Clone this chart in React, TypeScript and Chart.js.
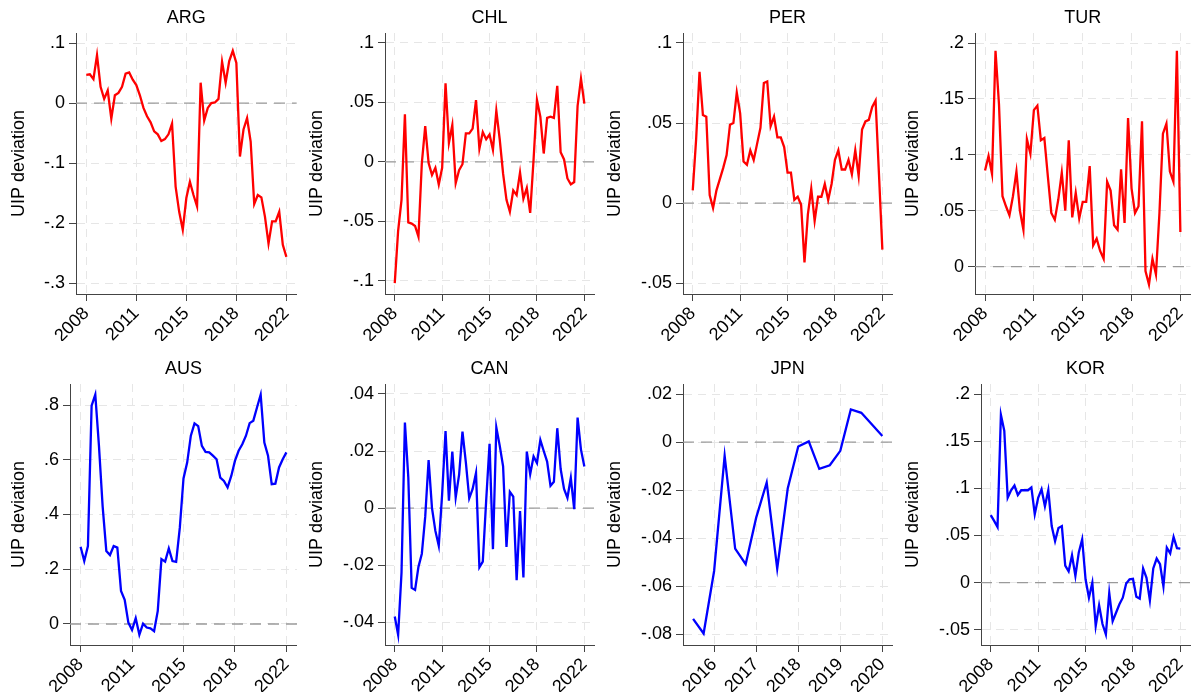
import React, { useEffect, useRef } from "react";
import { Chart, registerables } from "chart.js";

Chart.register(...registerables);

// ---------- data ----------
const YEAR_TICKS = [2008, 2011.5, 2015, 2018.5, 2022];
const YEAR_LABELS = ["2008", "2011", "2015", "2018", "2022"];
const JPN_TICKS = [2016, 2017, 2018, 2019, 2020];
const JPN_LABELS = ["2016", "2017", "2018", "2019", "2020"];

const START_MAIN = 2008; // 2008q1, quarterly
const START_JPN = 2015.5; // 2015q3, quarterly

const ARG = [0.047, 0.048, 0.040, 0.080, 0.027, 0.007, 0.021, -0.026, 0.013, 0.017,
  0.027, 0.049, 0.051, 0.039, 0.030, 0.013, -0.008, -0.022, -0.032, -0.047,
  -0.052, -0.063, -0.060, -0.052, -0.034, -0.139, -0.181, -0.211, -0.158, -0.131,
  -0.153, -0.172, 0.034, -0.029, -0.008, 0.000, 0.001, 0.007, 0.069, 0.034,
  0.070, 0.087, 0.067, -0.089, -0.044, -0.025, -0.064, -0.168, -0.153, -0.157,
  -0.189, -0.234, -0.197, -0.197, -0.181, -0.236, -0.256];

const CHL = [-0.102, -0.058, -0.032, 0.040, -0.051, -0.052, -0.054, -0.063, -0.001, 0.030,
  -0.001, -0.011, -0.005, -0.019, -0.005, 0.066, 0.016, 0.031, -0.018, -0.007,
  -0.002, 0.024, 0.024, 0.028, 0.052, 0.011, 0.025, 0.019, 0.023, 0.010,
  0.043, 0.019, -0.010, -0.032, -0.042, -0.024, -0.028, -0.009, -0.031, -0.022,
  -0.043, 0.002, 0.052, 0.038, 0.007, 0.037, 0.038, 0.037, 0.064, 0.008,
  0.002, -0.014, -0.019, -0.017, 0.047, 0.070, 0.049];

const PER = [0.008, 0.040, 0.082, 0.055, 0.054, 0.005, -0.003, 0.008, 0.015, 0.022,
  0.030, 0.049, 0.050, 0.069, 0.056, 0.026, 0.024, 0.033, 0.027, 0.037,
  0.047, 0.075, 0.076, 0.048, 0.054, 0.041, 0.041, 0.035, 0.019, 0.019,
  0.002, 0.004, -0.001, -0.037, -0.007, 0.009, -0.011, 0.004, 0.004, 0.012,
  0.002, 0.012, 0.027, 0.033, 0.021, 0.021, 0.027, 0.018, 0.033, 0.017,
  0.046, 0.051, 0.052, 0.060, 0.064, 0.018, -0.029];

const TUR = [0.086, 0.099, 0.083, 0.193, 0.145, 0.063, 0.054, 0.046, 0.063, 0.085,
  0.050, 0.033, 0.114, 0.101, 0.140, 0.144, 0.113, 0.115, 0.081, 0.048,
  0.042, 0.060, 0.084, 0.050, 0.113, 0.044, 0.066, 0.043, 0.058, 0.058,
  0.090, 0.019, 0.025, 0.014, 0.007, 0.076, 0.068, 0.037, 0.033, 0.087,
  0.039, 0.133, 0.070, 0.048, 0.054, 0.130, -0.004, -0.016, 0.007, -0.007,
  0.048, 0.119, 0.128, 0.085, 0.076, 0.193, 0.031];

const AUS = [0.282, 0.230, 0.285, 0.798, 0.838, 0.651, 0.430, 0.267, 0.252, 0.285,
  0.279, 0.121, 0.088, 0.005, -0.022, 0.021, -0.039, 0.001, -0.013, -0.016,
  -0.026, 0.048, 0.237, 0.228, 0.276, 0.230, 0.227, 0.352, 0.532, 0.590,
  0.688, 0.733, 0.723, 0.651, 0.629, 0.627, 0.615, 0.602, 0.535, 0.523,
  0.499, 0.541, 0.596, 0.633, 0.657, 0.688, 0.734, 0.743, 0.791, 0.838,
  0.663, 0.615, 0.511, 0.513, 0.572, 0.602, 0.627];

const CAN = [-0.038, -0.0444, -0.0226, 0.030, 0.0108, -0.028, -0.0287, -0.0206, -0.016, -0.003,
  0.0168, 0.000, -0.008, -0.0132, 0.005, 0.027, 0.0026, 0.0198, 0.0037, 0.0116,
  0.0268, 0.016, 0.0034, 0.0067, 0.0123, -0.0208, -0.0188, 0.0026, 0.0225, -0.0144,
  0.0283, 0.0219, 0.0146, -0.0136, 0.0057, 0.004, -0.0253, -0.001, -0.0243, 0.0198,
  0.0119, 0.0181, 0.0158, 0.0239, 0.020, 0.0163, 0.0078, 0.0092, 0.028, 0.0137,
  0.0067, 0.0036, 0.0106, -0.0004, 0.0317, 0.0205, 0.0146];

const JPN = [-0.0735, -0.0796, -0.0536, -0.0057, -0.0443, -0.0508, -0.0314, -0.0168, -0.0526, -0.0193,
  -0.0018, 0.0003, -0.0111, -0.0096, -0.0036, 0.0136, 0.0122, null, 0.0026];

const KOR = [0.0715, 0.0655, 0.059, 0.178, 0.161, 0.090, 0.098, 0.103, 0.093, 0.098,
  0.098, 0.098, 0.101, 0.0726, 0.090, 0.099, 0.081, 0.098, 0.060, 0.044,
  0.058, 0.060, 0.018, 0.012, 0.029, 0.007, 0.032, 0.046, 0.0035, -0.016,
  0.000, -0.046, -0.024, -0.044, -0.055, -0.011, -0.041, -0.032, -0.023, -0.016,
  -0.001, 0.0035, 0.004, -0.015, -0.017, 0.015, 0.005, -0.019, 0.015, 0.0255,
  0.0195, -0.004, 0.037, 0.031, 0.0485, 0.0365, 0.036];

const ARG_Y_TICKS = [-0.3, -0.2, -0.1, 0, 0.1];
const CHL_Y_TICKS = [-0.1, -0.05, 0, 0.05, 0.1];
const PER_Y_TICKS = [-0.05, 0, 0.05, 0.1];
const TUR_Y_TICKS = [0, 0.05, 0.1, 0.15, 0.2];
const AUS_Y_TICKS = [0, 0.2, 0.4, 0.6, 0.8];
const CAN_Y_TICKS = [-0.04, -0.02, 0, 0.02, 0.04];
const JPN_Y_TICKS = [-0.08, -0.06, -0.04, -0.02, 0, 0.02];
const KOR_Y_TICKS = [-0.05, 0, 0.05, 0.1, 0.15, 0.2];

// ---------- layout / style ----------
const FONT = "'Liberation Sans', Arial, sans-serif";
const RED = "#ff0000";
const BLUE = "#0000ff";
const GRID = "#e6e6e6";
const AXIS = "#444444";
const ZERO = "#9a9a9a";
const CANVAS_W = 304;
const CANVAS_H = 341;
const PLOT_BOTTOM = 294;
const MAIN_MARGIN = 0.72;
const JPN_MARGIN = 0.24;

type Panel = {
  title: string;
  values: (number | null)[];
  start: number;
  color: string;
  xTicks: number[];
  xLabels: string[];
  xMin: number;
  xMax: number;
  yMin: number;
  yMax: number;
  yTicks: number[];
  left: number;
  top: number;
  yAxisW: number;
};

const PANELS: Panel[] = [
  { title: "ARG", values: ARG, start: START_MAIN, color: RED, xTicks: YEAR_TICKS, xLabels: YEAR_LABELS, xMin: 2008 - MAIN_MARGIN, xMax: 2022 + MAIN_MARGIN, yMin: -0.3178, yMax: 0.1167, yTicks: ARG_Y_TICKS, left: 0, top: 0, yAxisW: 76 },
  { title: "CHL", values: CHL, start: START_MAIN, color: RED, xTicks: YEAR_TICKS, xLabels: YEAR_LABELS, xMin: 2008 - MAIN_MARGIN, xMax: 2022 + MAIN_MARGIN, yMin: -0.1112, yMax: 0.1084, yTicks: CHL_Y_TICKS, left: 298, top: 0, yAxisW: 87 },
  { title: "PER", values: PER, start: START_MAIN, color: RED, xTicks: YEAR_TICKS, xLabels: YEAR_LABELS, xMin: 2008 - MAIN_MARGIN, xMax: 2022 + MAIN_MARGIN, yMin: -0.0567, yMax: 0.1062, yTicks: PER_Y_TICKS, left: 596, top: 0, yAxisW: 87 },
  { title: "TUR", values: TUR, start: START_MAIN, color: RED, xTicks: YEAR_TICKS, xLabels: YEAR_LABELS, xMin: 2008 - MAIN_MARGIN, xMax: 2022 + MAIN_MARGIN, yMin: -0.0245, yMax: 0.209, yTicks: TUR_Y_TICKS, left: 894, top: 0, yAxisW: 81 },
  { title: "AUS", values: AUS, start: START_MAIN, color: BLUE, xTicks: YEAR_TICKS, xLabels: YEAR_LABELS, xMin: 2008 - MAIN_MARGIN, xMax: 2022 + MAIN_MARGIN, yMin: -0.0768, yMax: 0.877, yTicks: AUS_Y_TICKS, left: 0, top: 351, yAxisW: 70 },
  { title: "CAN", values: CAN, start: START_MAIN, color: BLUE, xTicks: YEAR_TICKS, xLabels: YEAR_LABELS, xMin: 2008 - MAIN_MARGIN, xMax: 2022 + MAIN_MARGIN, yMin: -0.048, yMax: 0.0435, yTicks: CAN_Y_TICKS, left: 298, top: 351, yAxisW: 87 },
  { title: "JPN", values: JPN, start: START_JPN, color: BLUE, xTicks: JPN_TICKS, xLabels: JPN_LABELS, xMin: 2015.5 - JPN_MARGIN, xMax: 2020 + JPN_MARGIN, yMin: -0.0844, yMax: 0.0242, yTicks: JPN_Y_TICKS, left: 596, top: 351, yAxisW: 87 },
  { title: "KOR", values: KOR, start: START_MAIN, color: BLUE, xTicks: YEAR_TICKS, xLabels: YEAR_LABELS, xMin: 2008 - MAIN_MARGIN, xMax: 2022 + MAIN_MARGIN, yMin: -0.0662, yMax: 0.2107, yTicks: KOR_Y_TICKS, left: 894, top: 351, yAxisW: 87 },
];

const fmt = (v: number) => {
  let s = String(Number(v.toFixed(6)));
  s = s.replace(/^0\./, ".").replace(/^-0\./, "-.");
  return s;
};

const zeroLine = {
  id: "zeroLine",
  beforeDatasetsDraw(chart: any) {
    const { ctx, chartArea, scales } = chart;
    const py = scales.y.getPixelForValue(0);
    ctx.save();
    ctx.strokeStyle = ZERO;
    ctx.lineWidth = 1.3;
    ctx.setLineDash([11, 7]);
    ctx.beginPath();
    ctx.moveTo(chartArea.left, py);
    ctx.lineTo(chartArea.right, py);
    ctx.stroke();
    ctx.restore();
  },
};

function PanelChart({ p }: { p: Panel }) {
  const ref = useRef<HTMLCanvasElement | null>(null);
  useEffect(() => {
    if (!ref.current) return;
    const font = { family: FONT, size: 18, weight: "normal" as const };
    const chart = new Chart(ref.current, {
      type: "line",
      data: {
        datasets: [
          {
            data: p.values.map((y, i) => ({ x: p.start + i * 0.25, y })),
            borderColor: p.color,
            borderWidth: 2.3,
            pointRadius: 0,
            tension: 0,
            spanGaps: true,
            fill: false,
          },
        ],
      },
      options: {
        animation: false,
        responsive: false,
        maintainAspectRatio: false,
        layout: { padding: 0 },
        plugins: {
          legend: { display: false },
          tooltip: { enabled: false },
          title: {
            display: true,
            text: p.title,
            fullSize: false,
            color: "#000",
            font,
            padding: { top: 7.5, bottom: 3.9 },
          },
        },
        scales: {
          x: {
            type: "linear",
            min: p.xMin,
            max: p.xMax,
            afterBuildTicks: (s: any) => {
              s.ticks = p.xTicks.map((v) => ({ value: v }));
            },
            afterFit: (s: any) => {
              s.height = CANVAS_H - PLOT_BOTTOM;
            },
            ticks: {
              autoSkip: false,
              minRotation: 45,
              maxRotation: 45,
              padding: 2,
              color: "#000",
              font,
              callback: (_v: any, i: number) => p.xLabels[i],
            },
            grid: {
              color: GRID,
              lineWidth: 1,
              tickLength: 7,
              tickColor: AXIS,
              tickWidth: 1,
              tickBorderDash: [],
            } as any,
            border: { display: true, color: AXIS, width: 1, dash: [8, 6] },
          },
          y: {
            type: "linear",
            min: p.yMin,
            max: p.yMax,
            afterBuildTicks: (s: any) => {
              s.ticks = p.yTicks.map((v) => ({ value: v }));
            },
            afterFit: (s: any) => {
              s.width = p.yAxisW;
            },
            title: {
              display: true,
              text: "UIP deviation",
              color: "#000",
              font,
              padding: { top: 8.5, bottom: 0 },
            },
            ticks: {
              autoSkip: false,
              padding: 4,
              color: "#000",
              font,
              callback: (v: any) => fmt(Number(v)),
            },
            grid: {
              color: GRID,
              lineWidth: 1,
              tickLength: 7,
              tickColor: AXIS,
              tickWidth: 1,
              tickBorderDash: [],
            } as any,
            border: { display: true, color: AXIS, width: 1, dash: [8, 6] },
          },
        },
      },
      plugins: [zeroLine],
    });
    return () => chart.destroy();
  }, [p]);
  return (
    <canvas
      ref={ref}
      width={CANVAS_W}
      height={CANVAS_H}
      style={{
        position: "absolute",
        left: p.left,
        top: p.top,
        width: CANVAS_W,
        height: CANVAS_H,
      }}
    />
  );
}

export default function App() {
  return (
    <div
      style={{
        position: "fixed",
        left: 0,
        top: 0,
        width: 1193,
        height: 692,
        overflow: "hidden",
        background: "#ffffff",
      }}
    >
      {PANELS.map((p) => (
        <PanelChart key={p.title} p={p} />
      ))}
    </div>
  );
}
